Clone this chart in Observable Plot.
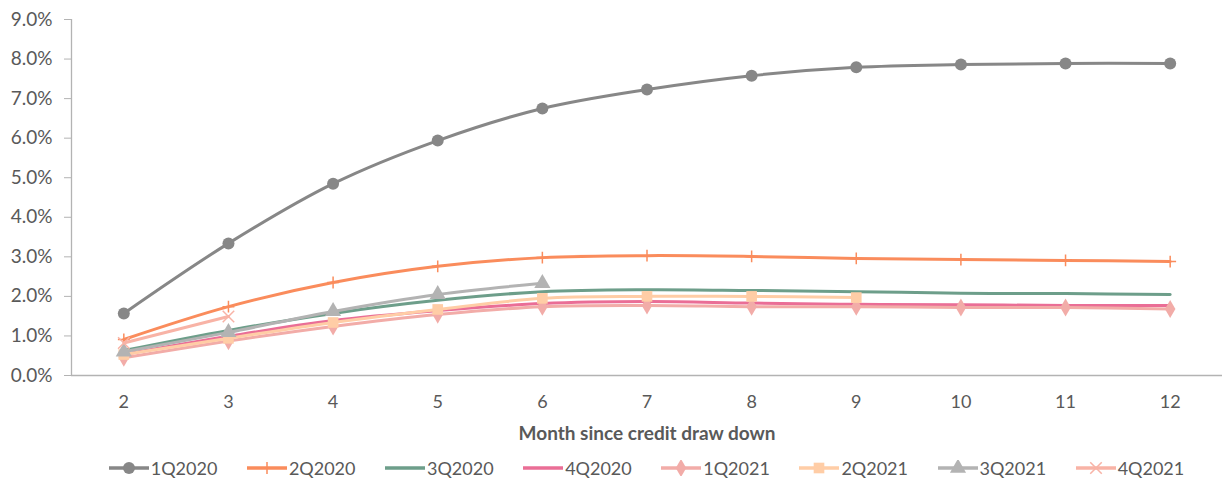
<!DOCTYPE html>
<html>
<head>
<meta charset="utf-8">
<script src="https://cdn.jsdelivr.net/npm/d3@7"></script>
<script src="https://cdn.jsdelivr.net/npm/@observablehq/plot@0.6"></script>
<style>
  html, body { margin: 0; padding: 0; background: #fff; }
  body { width: 1222px; height: 481px; overflow: hidden; font-family: Lato, "Open Sans", sans-serif; }
  #chart svg { display: block; }
  #chart g[aria-label="x-axis label"] text { font-weight: bold; font-size: 19px; }
  #legend { display: flex; justify-content: center; align-items: center; gap: 28.5px; height: 46px; color: #595959; font-size: 18px; padding-left: 70px; }
  .item { display: flex; align-items: center; gap: 1px; }
</style>
</head>
<body>
<div id="chart"></div>
<div id="legend"></div>
<script>
// ---- data (default rate, by month since credit draw down) ----
const months = [2, 3, 4, 5, 6, 7, 8, 9, 10, 11, 12];
const seriesNames = ["1Q2020", "2Q2020", "3Q2020", "4Q2020", "1Q2021", "2Q2021", "3Q2021", "4Q2021"];
const v1Q2020 = [1.57, 3.34, 4.85, 5.94, 6.75, 7.23, 7.58, 7.79, 7.86, 7.89, 7.89];
const v2Q2020 = [0.91, 1.74, 2.35, 2.76, 2.98, 3.03, 3.01, 2.96, 2.93, 2.91, 2.88];
const v3Q2020 = [0.63, 1.14, 1.57, 1.90, 2.12, 2.17, 2.15, 2.12, 2.08, 2.07, 2.05];
const v4Q2020 = [0.53, 0.99, 1.39, 1.64, 1.82, 1.87, 1.83, 1.80, 1.79, 1.77, 1.77];
const v1Q2021 = [0.45, 0.87, 1.24, 1.54, 1.74, 1.77, 1.74, 1.74, 1.72, 1.72, 1.68];
const v2Q2021 = [0.53, 0.94, 1.34, 1.67, 1.95, 2.00, 2.00, 1.97];
const v3Q2021 = [0.60, 1.09, 1.62, 2.05, 2.33];
const v4Q2021 = [0.82, 1.49];
const yTicks = [0, 1, 2, 3, 4, 5, 6, 7, 8, 9];

const colors = ["#878787", "#FA8C5C", "#6D9E8A", "#EA6E96", "#F2ACA8", "#FFCDA6", "#B3B3B3", "#F8B3A6"];
const symbols = ["circle", "plus", null, null, "diamond", "square", "triangle", "times"];
const symR = {circle: 6, plus: 3.9, diamond: 5.5, square: 6, triangle: 6, times: 5.3};
const values = [v1Q2020, v2Q2020, v3Q2020, v4Q2020, v1Q2021, v2Q2021, v3Q2021, v4Q2021];

const rows = [];
values.forEach((arr, i) => arr.forEach((v, j) => rows.push({series: seriesNames[i], month: months[j], value: v / 100})));

const marks = [
  Plot.ruleY([0], {stroke: "#b3b3b3", strokeWidth: 1.3}),
  Plot.ruleX([1.5], {stroke: "#b3b3b3", strokeWidth: 1.3}),
  Plot.axisY({ticks: yTicks.map(d => d / 100), tickFormat: d3.format(".1%"), tickSize: 7, tickPadding: 12,
    stroke: "#b3b3b3", color: "#595959", fontSize: 19, label: null}),
  Plot.axisX({ticks: months, tickSize: 0, tickPadding: 20, color: "#595959", fontSize: 18,
    label: "Month since credit draw down", labelAnchor: "center", labelOffset: 64, labelArrow: "none"})
];
seriesNames.forEach((name, i) => {
  const data = rows.filter(d => d.series === name);
  marks.push(Plot.line(data, {x: "month", y: "value", stroke: colors[i], strokeWidth: 3, curve: "catmull-rom"}));
  const sym = symbols[i];
  if (sym) {
    const stroked = sym === "plus" || sym === "times";
    marks.push(Plot.dot(data, {x: "month", y: "value", symbol: () => sym, r: symR[sym],
      fill: stroked ? "none" : colors[i], stroke: stroked ? colors[i] : "none", strokeWidth: stroked ? 1.5 : 0}));
  }
});

const chart = Plot.plot({
  width: 1222,
  height: 445,
  marginLeft: 71,
  marginRight: 0,
  marginTop: 19,
  marginBottom: 70,
  style: {fontFamily: "Lato, 'Open Sans', sans-serif", fontSize: "18px", color: "#595959", background: "#fff"},
  x: {type: "linear", domain: [1.5, 12.5]},
  y: {domain: [0, 0.09]},
  symbol: {type: "identity"},
  marks
});
document.getElementById("chart").appendChild(chart);

// ---- legend ----
const legend = d3.select("#legend");
seriesNames.forEach((name, i) => {
  const item = legend.append("div").attr("class", "item");
  const svg = item.append("svg").attr("width", 42).attr("height", 16);
  svg.append("line").attr("x1", 1).attr("x2", 41).attr("y1", 8).attr("y2", 8)
    .attr("stroke", colors[i]).attr("stroke-width", 3.5);
  const sym = symbols[i];
  if (sym) {
    const stroked = sym === "plus" || sym === "times";
    const typ = {circle: d3.symbolCircle, plus: d3.symbolPlus, diamond: d3.symbolDiamond,
      square: d3.symbolSquare, triangle: d3.symbolTriangle, times: d3.symbolTimes}[sym];
    const r = symR[sym];
    svg.append("path").attr("transform", "translate(21,8)")
      .attr("d", d3.symbol(typ, Math.PI * r * r)())
      .attr("fill", stroked ? "none" : colors[i])
      .attr("stroke", stroked ? colors[i] : "none").attr("stroke-width", 1.5);
  }
  item.append("span").text(name);
});
</script>
</body>
</html>
